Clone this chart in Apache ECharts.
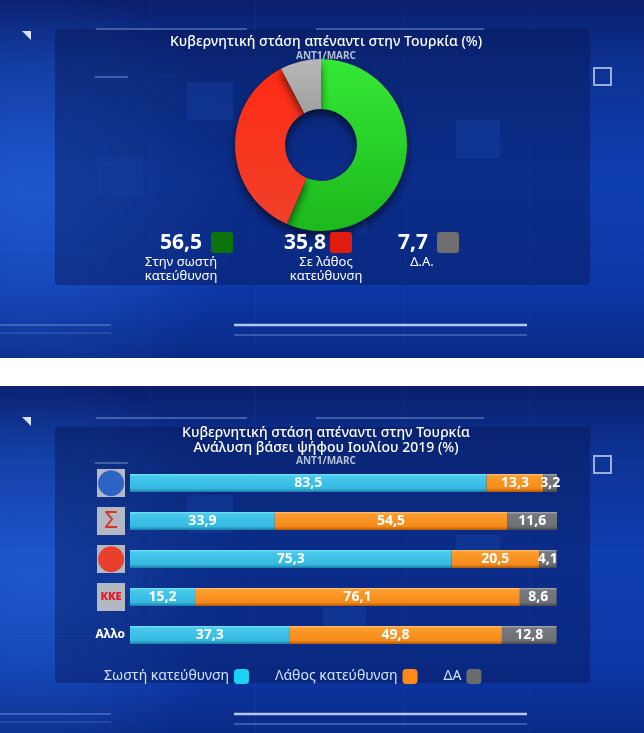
<!DOCTYPE html>
<html>
<head>
<meta charset="utf-8">
<script src="https://cdn.jsdelivr.net/npm/echarts@6/dist/echarts.min.js"></script>
<style>
html,body{margin:0;padding:0;background:#fff;}
#c{width:644px;height:733px;}
</style>
</head>
<body>
<div id="c"></div>
<script>
// ---- data: top donut ----
const pieNames = ['Στην σωστή\nκατεύθυνση', 'Σε λάθος\nκατεύθυνση', 'Δ.Α.'];
const pieValues = [56.5, 35.8, 7.7];
// ---- data: bottom bars ----
const parties = ['ΝΔ', 'ΣΥΡΙΖΑ', 'ΚΙΝΑΛ', 'ΚΚΕ', 'Αλλο'];
const seriesNames = ['Σωστή κατεύθυνση', 'Λάθος κατεύθυνση', 'ΔΑ'];
const correctVals = [83.5, 33.9, 75.3, 15.2, 37.3];
const wrongVals = [13.3, 54.5, 20.5, 76.1, 49.8];
const dkVals = [3.2, 11.6, 4.1, 8.6, 12.8];

const FONT = '"Noto Sans", "DejaVu Sans", sans-serif';
const fmt = v => v.toFixed(1).replace('.', ',');

function vgrad(stops) {
  return new echarts.graphic.LinearGradient(0, 0, 0, 1, stops.map((c, i) => ({offset: c[0], color: c[1]})));
}

// ---- styles ----
const pieColors = [
  vgrad([[0, '#36e836'], [1, '#1cb81c']]),
  vgrad([[0, '#ff2b12'], [1, '#f0402a']]),
  vgrad([[0, '#b8b8b8'], [1, '#a0a0a0']])
];
const pieKeyColors = ['#0c730c', '#e01c10', '#6e6e6e'];
const pieKeyPos = [ // [number left x, square x, name centre x]
  [160, 211, 181],
  [284, 330, 326],
  [398, 437, 422]
];
const barColors = [
  vgrad([[0, '#7ae4fa'], [0.12, '#46c9ec'], [0.8, '#36b9e0'], [1, '#1a7da3']]),
  vgrad([[0, '#ffc47a'], [0.12, '#fb9c2c'], [0.8, '#f68b1a'], [1, '#b05a06']]),
  vgrad([[0, '#a8abb0'], [0.12, '#76797e'], [0.8, '#6d7075'], [1, '#44474b']])
];
const legendColors = ['#1bd2f0', '#ff8a1a', '#6a6b6e'];

function bgGrad() {
  return new echarts.graphic.LinearGradient(0, 0, 0, 1, [
    {offset: 0, color: '#0a1e6c'},
    {offset: 0.18, color: '#0c3192'},
    {offset: 0.5, color: '#0e3eb2'},
    {offset: 0.8, color: '#0c37a6'},
    {offset: 1, color: '#0a2a86'}
  ]);
}
function glow() {
  return new echarts.graphic.RadialGradient(0.05, 0.55, 0.6, [
    {offset: 0, color: 'rgba(50,120,240,0.45)'},
    {offset: 1, color: 'rgba(50,120,240,0)'}
  ]);
}
function decor(oy) {
  const els = [];
  els.push({type: 'rect', shape: {x: 0, y: oy, width: 644, height: oy === 0 ? 358 : 347}, style: {fill: bgGrad()}, z: -20});
  els.push({type: 'rect', shape: {x: 0, y: oy, width: 644, height: oy === 0 ? 358 : 347}, style: {fill: glow()}, z: -19});
  // light squares
  const sq = oy === 0
    ? [[187, 82, 46, 38], [98, 158, 45, 39], [456, 120, 44, 38], [354, 220, 13, 13]]
    : [[187, 495 - 386, 46, 38], [456, 535 - 386, 44, 30], [323, 607 - 386, 43, 30], [98, 560 - 386, 45, 39]];
  sq.forEach(s => els.push({type: 'rect', shape: {x: s[0], y: oy + s[1], width: s[2], height: s[3]}, style: {fill: 'rgba(30,90,210,0.55)'}, z: -18}));
  // faint vertical grid lines
  [150, 255, 405, 530].forEach(x => els.push({type: 'line', shape: {x1: x, y1: oy, x2: x, y2: oy + 345}, style: {stroke: 'rgba(120,170,255,0.08)', lineWidth: 1}, z: -18}));
  [75, 165, 250].forEach(y => els.push({type: 'line', shape: {x1: 0, y1: oy + y, x2: 644, y2: oy + y}, style: {stroke: 'rgba(120,170,255,0.08)', lineWidth: 1}, z: -18}));
  // inner panel
  els.push({type: 'rect', shape: {x: 55, y: oy + (oy === 0 ? 29 : 41), width: 535, height: 256, r: 4}, style: {fill: 'rgba(6,22,80,0.42)'}, z: -17});
  // top lines
  const ty = oy + (oy === 0 ? 29 : 32);
  els.push({type: 'line', shape: {x1: 96, y1: ty, x2: 247, y2: ty}, style: {stroke: 'rgba(170,200,255,0.45)', lineWidth: 1.5}, z: -16});
  els.push({type: 'line', shape: {x1: 316, y1: ty, x2: 484, y2: ty}, style: {stroke: 'rgba(170,200,255,0.45)', lineWidth: 1.5}, z: -16});
  els.push({type: 'line', shape: {x1: 95, y1: oy + 77, x2: 128, y2: oy + 77}, style: {stroke: 'rgba(170,200,255,0.45)', lineWidth: 1.5}, z: -16});
  // bottom lines
  const by = oy + (oy === 0 ? 325 : 328);
  els.push({type: 'line', shape: {x1: 234, y1: by, x2: 527, y2: by}, style: {stroke: 'rgba(225,235,255,0.8)', lineWidth: 2.5}, z: -16});
  els.push({type: 'line', shape: {x1: 234, y1: by + 10, x2: 527, y2: by + 10}, style: {stroke: 'rgba(200,220,255,0.35)', lineWidth: 1.5}, z: -16});
  els.push({type: 'line', shape: {x1: 0, y1: by, x2: 111, y2: by}, style: {stroke: 'rgba(200,220,255,0.35)', lineWidth: 1.5}, z: -16});
  els.push({type: 'line', shape: {x1: 0, y1: by + 8, x2: 111, y2: by + 8}, style: {stroke: 'rgba(200,220,255,0.25)', lineWidth: 1}, z: -16});
  // outlined square
  els.push({type: 'rect', shape: {x: 594, y: oy + (oy === 0 ? 68 : 70), width: 17, height: 17}, style: {fill: 'none', stroke: 'rgba(190,205,235,0.8)', lineWidth: 2}, z: -16});
  // corner triangle
  els.push({type: 'polygon', shape: {points: [[22, oy + 31], [31, oy + 31], [31, oy + 40]]}, style: {fill: '#d8e4ff'}, z: -16});
  return els;
}

const graphics = [].concat(decor(0), decor(386));
graphics.push({type: 'rect', shape: {x: 0, y: 358, width: 644, height: 28}, style: {fill: '#ffffff'}, z: -15});

// key under the donut, built from pie data
pieValues.forEach((v, i) => {
  const p = pieKeyPos[i];
  graphics.push({type: 'text', x: p[0], y: 243, z: 10,
    style: {text: fmt(v), fill: '#ffffff', font: 'bold 21px ' + FONT, textVerticalAlign: 'middle'}});
  graphics.push({type: 'rect', shape: {x: p[1], y: 232, width: 22, height: 21, r: 3}, style: {fill: pieKeyColors[i]}, z: 10});
  graphics.push({type: 'text', x: p[2], y: 255, z: 10,
    style: {text: pieNames[i], fill: '#ffffff', font: '13px ' + FONT, textAlign: 'center', lineHeight: 14}});
});

const chart = echarts.init(document.getElementById('c'));
chart.setOption({
  animation: false,
  title: [
    {
      text: 'Κυβερνητική στάση απέναντι στην Τουρκία (%)',
      subtext: 'ANT1/MARC',
      left: 321, top: 30, textAlign: 'center', itemGap: 2,
      textStyle: {color: '#ffffff', fontSize: 14, fontWeight: 500, fontFamily: FONT},
      subtextStyle: {color: '#b4bfd8', fontSize: 10, fontWeight: 'bold', fontFamily: FONT}
    },
    {
      text: 'Κυβερνητική στάση απέναντι στην Τουρκία\nΑνάλυση βάσει ψήφου Ιουλίου 2019 (%)',
      subtext: 'ANT1/MARC',
      left: 321, top: 421, textAlign: 'center', itemGap: 0,
      textStyle: {color: '#ffffff', fontSize: 14, fontWeight: 500, fontFamily: FONT, lineHeight: 15},
      subtextStyle: {color: '#b4bfd8', fontSize: 10, fontWeight: 'bold', fontFamily: FONT}
    }
  ],
  graphic: {elements: graphics},
  legend: {
    data: seriesNames.map((n, i) => ({name: n, itemStyle: {color: legendColors[i]}})),
    left: 99, top: 664, align: 'right', icon: 'roundRect',
    itemWidth: 15, itemHeight: 15, itemGap: 26, selectedMode: false,
    textStyle: {color: '#cfe2ff', fontSize: 14, fontFamily: FONT, padding: [0, 0, 0, 0]}
  },
  grid: {left: 130, right: 87, top: 464, height: 190},
  xAxis: {type: 'value', min: 0, max: 100, show: false},
  yAxis: {
    type: 'category', data: parties, inverse: true,
    axisLine: {show: false}, axisTick: {show: false},
    axisLabel: {
      margin: 5,
      formatter: v => ({'ΝΔ': '{nd|●}', 'ΣΥΡΙΖΑ': '{sy|Σ}', 'ΚΙΝΑΛ': '{ki|●}', 'ΚΚΕ': '{kke|ΚΚΕ}', 'Αλλο': '{al|Αλλο}'})[v],
      rich: {
        nd: {width: 28, height: 28, lineHeight: 28, align: 'center', backgroundColor: '#b3b9c3', color: '#2e63c6', fontSize: 34, fontFamily: '"DejaVu Sans"'},
        sy: {width: 28, height: 28, lineHeight: 28, align: 'center', backgroundColor: '#b3b9c3', color: '#e0302a', fontSize: 24, fontFamily: FONT},
        ki: {width: 28, height: 28, lineHeight: 28, align: 'center', backgroundColor: '#b3b9c3', color: '#e8402c', fontSize: 34, fontFamily: '"DejaVu Sans"'},
        kke: {width: 28, height: 28, lineHeight: 28, align: 'center', backgroundColor: '#b3b9c3', color: '#e3202a', fontSize: 11, fontWeight: 900, fontFamily: FONT},
        al: {color: '#ffffff', fontSize: 12, fontWeight: 'bold', fontFamily: FONT}
      }
    }
  },
  series: [
    {
      type: 'pie', center: [321, 145], radius: [36, 86], startAngle: 90, clockwise: true,
      label: {show: false}, labelLine: {show: false}, silent: true,
      itemStyle: {shadowColor: 'rgba(0,0,0,0.6)', shadowBlur: 8, shadowOffsetY: 5},
      data: pieValues.map((v, i) => ({name: pieNames[i], value: v, itemStyle: {color: pieColors[i]}}))
    }
  ].concat([correctVals, wrongVals, dkVals].map((vals, i) => ({
    type: 'bar', name: seriesNames[i], stack: 'all', barWidth: 18, data: vals,
    itemStyle: {color: barColors[i]},
    label: {show: true, position: 'inside', color: '#ffffff', fontSize: 14, fontWeight: 'bold', fontFamily: FONT, formatter: p => fmt(p.value)}
  })))
});
</script>
</body>
</html>
